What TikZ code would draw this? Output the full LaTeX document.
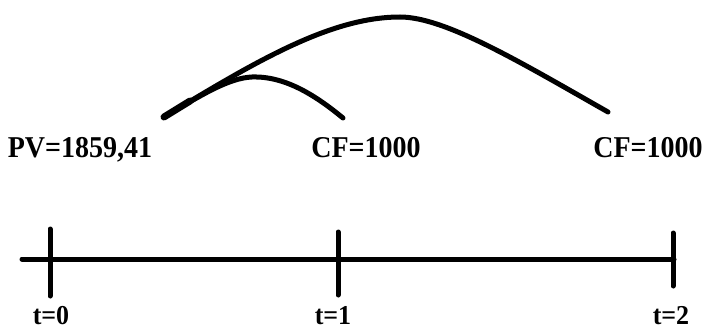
\documentclass[tikz,border=0pt]{standalone}
\usepackage{fontspec}
\setmainfont{Liberation Serif}
\begin{document}
\begin{tikzpicture}[x=1pt,y=-1pt,
  lbl/.style={font=\fontsize{28}{30}\selectfont\bfseries, inner sep=0pt, anchor=base},
  tlbl/.style={font=\fontsize{26}{28}\selectfont\bfseries, inner sep=0pt, anchor=base},
  axis/.style={line width=5pt, line cap=round},
  arc/.style={line width=5pt, line cap=round}]
\useasboundingbox (0,0) rectangle (704,329);
% labels
\node[lbl] (pv) at (80,157) {\scalebox{1}[1.08]{PV=1859,41}};
\node[lbl] (cf1) at (366,157) {\scalebox{1}[1.08]{CF=1000}};
\node[lbl] (cf2) at (648,157) {\scalebox{1}[1.08]{CF=1000}};
\node[tlbl] (t0) at (51,324) {\scalebox{1}[1.05]{t=0}};
\node[tlbl] (t1) at (333,324) {\scalebox{1}[1.05]{t=1}};
\node[tlbl] (t2) at (671,324) {\scalebox{1}[1.05]{t=2}};
% timeline
\coordinate (L) at (22,259);
\coordinate (R) at (674,259);
\draw[axis] (L) -- (R);
\coordinate (a0) at (50,229); \coordinate (b0) at (50,296);
\coordinate (a1) at (338,232); \coordinate (b1) at (338,295);
\coordinate (a2) at (673,233); \coordinate (b2) at (673,286);
\draw[axis] (a0) -- (b0);
\draw[axis] (a1) -- (b1);
\draw[axis] (a2) -- (b2);
% arcs
\coordinate (s) at (164,117);
\coordinate (e1) at (343,118);
\coordinate (e2) at (608,112);
\draw[arc] (s) .. controls (255,62) and (330,17) .. (400,17)
  .. controls (445,17) and (520,62) .. (e2);
\draw[arc] (s) .. controls (200,96) and (228,78) .. (252,77)
  .. controls (285,76) and (315,95) .. (e1);
\draw[line width=7pt, line cap=round] (s) -- (190,101);
\end{tikzpicture}
\end{document}
